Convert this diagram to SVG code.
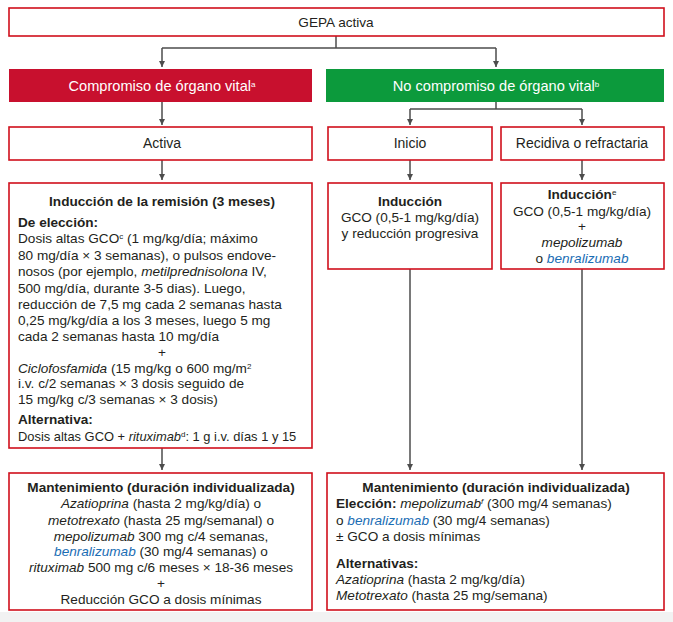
<svg xmlns="http://www.w3.org/2000/svg" width="673" height="622" viewBox="0 0 673 622">
<style>
  text { font-family: "Liberation Sans", Arial, sans-serif; fill: #231f20; font-size: 13.6px; }
  .box { fill: #ffffff; stroke: #d0101c; stroke-width: 1.6; }
  .hdr { font-size: 14px; }
  .hdr2 { font-size: 14.6px; }
  .sm { font-size: 12.9px; }
  .w { fill: #ffffff; }
  .b { font-weight: bold; }
  .i { font-style: italic; }
  .blue { fill: #1a6db4; font-style: italic; }
  .c { text-anchor: middle; }
  .sup { font-size: 8px; }
  .conn { fill: none; stroke: #4d4d4d; stroke-width: 1.5; }
</style>
<defs>
  <marker id="arr" viewBox="0 0 6 6" refX="6" refY="3" markerWidth="6" markerHeight="6" markerUnits="userSpaceOnUse" orient="auto">
    <path d="M0,0 L6,3 L0,6 z" fill="#4d4d4d"/>
  </marker>
</defs>
<rect x="0" y="0" width="673" height="622" fill="#ffffff"/>
<rect x="0" y="612" width="673" height="10" fill="#f2f2f2"/>

<g id="connectors">
  <path class="conn" d="M336,36 V48"/>
  <path class="conn" d="M162,48 H496"/>
  <path class="conn" d="M162,48 V67" marker-end="url(#arr)"/>
  <path class="conn" d="M496,48 V67" marker-end="url(#arr)"/>
  <path class="conn" d="M162,102 V125" marker-end="url(#arr)"/>
  <path class="conn" d="M496,102 V109"/>
  <path class="conn" d="M410,109 H582"/>
  <path class="conn" d="M410,109 V125" marker-end="url(#arr)"/>
  <path class="conn" d="M582,109 V125" marker-end="url(#arr)"/>
  <path class="conn" d="M162,160 V180" marker-end="url(#arr)"/>
  <path class="conn" d="M410,160 V180" marker-end="url(#arr)"/>
  <path class="conn" d="M582,160 V180" marker-end="url(#arr)"/>
  <path class="conn" d="M162,448 V470" marker-end="url(#arr)"/>
  <path class="conn" d="M410,269 V470" marker-end="url(#arr)"/>
  <path class="conn" d="M582,269 V470" marker-end="url(#arr)"/>
</g>

<g id="gepa">
  <rect class="box" x="9" y="8" width="655" height="28"/>
  <text class="c" x="336" y="27">GEPA activa</text>
</g>

<g id="compromiso">
  <rect x="9" y="69" width="303" height="33" fill="#c8102e"/>
  <text class="c hdr2 w" x="162" y="90.5">Compromiso de órgano vital<tspan class="sup w" baseline-shift="super">a</tspan></text>
</g>

<g id="no-compromiso">
  <rect x="326" y="69" width="338" height="33" fill="#0c9a3c"/>
  <text class="c hdr2 w" x="496" y="90.5">No compromiso de órgano vital<tspan class="sup w" baseline-shift="super">b</tspan></text>
</g>

<g id="activa">
  <rect class="box" x="9" y="127" width="303" height="33"/>
  <text class="c hdr" x="162" y="148">Activa</text>
</g>

<g id="inicio">
  <rect class="box" x="328" y="127" width="164" height="33"/>
  <text class="c hdr" x="410" y="148">Inicio</text>
</g>

<g id="recidiva">
  <rect class="box" x="501" y="127" width="163" height="33"/>
  <text class="c hdr" x="582" y="148">Recidiva o refractaria</text>
</g>

<g id="induccion-remision">
  <rect class="box" x="9" y="183" width="303" height="265"/>
  <text class="c b" x="162" y="206">Inducción de la remisión (3 meses)</text>
  <text class="b" x="18" y="227">De elección:</text>
  <text x="18" y="243">Dosis altas GCO<tspan class="sup" baseline-shift="super">c</tspan> (1 mg/kg/día; máximo</text>
  <text x="18" y="259.5">80 mg/día × 3 semanas), o pulsos endove-</text>
  <text x="18" y="276">nosos (por ejemplo, <tspan class="i">metilprednisolona</tspan> IV,</text>
  <text x="18" y="292.5">500 mg/día, durante 3-5 dias). Luego,</text>
  <text x="18" y="309">reducción de 7,5 mg cada 2 semanas hasta</text>
  <text x="18" y="325">0,25 mg/kg/día a los 3 meses, luego 5 mg</text>
  <text x="18" y="341">cada 2 semanas hasta 10 mg/día</text>
  <text class="c" x="162" y="357">+</text>
  <text x="18" y="372.5"><tspan class="i">Ciclofosfamida</tspan> (15 mg/kg o 600 mg/m<tspan class="sup" baseline-shift="super">2</tspan></text>
  <text x="18" y="388">i.v. c/2 semanas × 3 dosis seguido de</text>
  <text x="18" y="403.5">15 mg/kg c/3 semanas × 3 dosis)</text>
  <text class="b" x="18" y="424">Alternativa:</text>
  <text class="sm" x="18" y="441">Dosis altas GCO + <tspan class="i">rituximab</tspan><tspan class="sup" baseline-shift="super">d</tspan>: 1 g i.v. días 1 y 15</text>
</g>

<g id="induccion-inicio">
  <rect class="box" x="328" y="183" width="164" height="86"/>
  <text class="c b" x="410" y="206">Inducción</text>
  <text class="c" x="410" y="222">GCO (0,5-1 mg/kg/día)</text>
  <text class="c" x="410" y="238">y reducción progresiva</text>
</g>

<g id="induccion-recidiva">
  <rect class="box" x="501" y="183" width="163" height="86"/>
  <text class="c b" x="582" y="199">Inducción<tspan class="sup" baseline-shift="super" style="font-weight:normal">e</tspan></text>
  <text class="c" x="582" y="215.5">GCO (0,5-1 mg/kg/día)</text>
  <text class="c" x="582" y="231">+</text>
  <text class="c i" x="582" y="247">mepolizumab</text>
  <text class="c" x="582" y="263">o <tspan class="blue">benralizumab</tspan></text>
</g>

<g id="mantenimiento-izq">
  <rect class="box" x="9" y="473" width="303" height="137"/>
  <text class="c b" x="161" y="492">Mantenimiento (duración individualizada)</text>
  <text class="c" x="161" y="508"><tspan class="i">Azatioprina</tspan> (hasta 2 mg/kg/día) o</text>
  <text class="c" x="161" y="524.5"><tspan class="i">metotrexato</tspan> (hasta 25 mg/semanal) o</text>
  <text class="c" x="161" y="540.5"><tspan class="i">mepolizumab</tspan> 300 mg c/4 semanas,</text>
  <text class="c" x="161" y="556"><tspan class="blue">benralizumab</tspan> (30 mg/4 semanas) o</text>
  <text class="c" x="161" y="572"><tspan class="i">rituximab</tspan> 500 mg c/6 meses × 18-36 meses</text>
  <text class="c" x="161" y="588">+</text>
  <text class="c" x="161" y="604">Reducción GCO a dosis mínimas</text>
</g>

<g id="mantenimiento-der">
  <rect class="box" x="327" y="473" width="337" height="137"/>
  <text class="c b" x="496" y="492">Mantenimiento (duración individualizada)</text>
  <text x="336" y="508"><tspan class="b">Elección:</tspan> <tspan class="i">mepolizumab</tspan><tspan class="sup i" baseline-shift="super">f</tspan> (300 mg/4 semanas)</text>
  <text x="336" y="525">o <tspan class="blue">benralizumab</tspan> (30 mg/4 semanas)</text>
  <text x="336" y="541">± GCO a dosis mínimas</text>
  <text class="b" x="336" y="568">Alternativas:</text>
  <text x="336" y="583.5"><tspan class="i">Azatioprina</tspan> (hasta 2 mg/kg/día)</text>
  <text x="336" y="599.5"><tspan class="i">Metotrexato</tspan> (hasta 25 mg/semana)</text>
</g>
</svg>
